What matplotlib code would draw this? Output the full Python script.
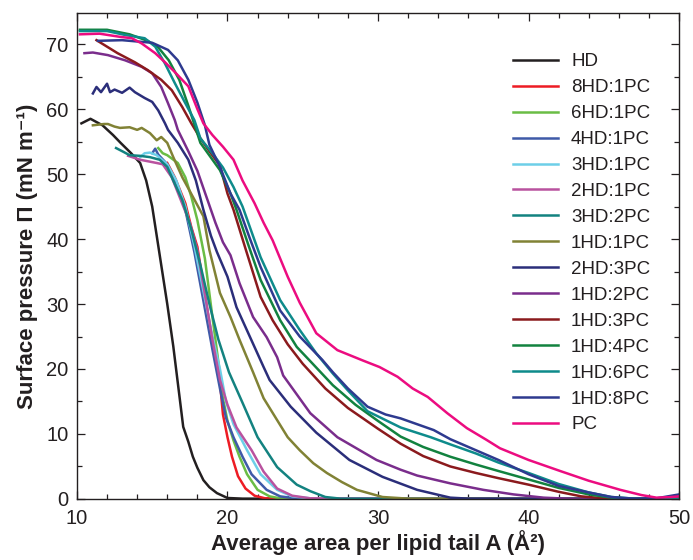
import matplotlib
matplotlib.use("Agg")
import matplotlib.pyplot as plt
from matplotlib.ticker import MultipleLocator

plt.rcParams['font.family'] = ['Liberation Sans', 'DejaVu Sans']

# isotherms: area per tail (A^2) and surface pressure (mN/m)
hd_x = [10.3, 10.9, 11.7, 12.4, 12.9, 13.6, 14.2, 14.6, 15.0, 15.5, 16.0, 16.4, 16.8, 17.06, 17.4, 17.7, 18.0, 18.4, 18.8, 19.3, 20.0, 21.0, 50]
hd_y = [57.8, 58.5, 57.5, 56.0, 54.8, 53.2, 51.7, 49.0, 45.0, 37.5, 30.0, 23.5, 16.0, 11.1, 8.8, 6.5, 4.8, 2.9, 1.8, 0.9, 0.15, 0.05, 0]

hd8_x = [16.0, 16.5, 17.2, 17.6, 18.0, 18.4, 18.8, 19.2, 19.5, 19.7, 20.0, 20.3, 20.7, 21.2, 21.8, 22.5, 50]
hd8_y = [51.7, 49.5, 45.5, 41.8, 38.8, 33.0, 27.0, 22.0, 18.0, 13.0, 9.5, 6.5, 3.5, 1.6, 0.5, 0.1, 0]

hd6_x = [15.4, 15.7, 16.0, 16.7, 17.2, 17.6, 18.0, 18.5, 19.0, 19.4, 19.7, 20.0, 20.4, 20.8, 21.3, 22.0, 22.8, 23.5, 50]
hd6_y = [54.0, 53.2, 52.9, 51.7, 49.5, 46.5, 42.9, 37.0, 28.0, 21.0, 15.5, 12.0, 9.0, 6.5, 3.8, 1.4, 0.4, 0.1, 0]

hd4_x = [15.0, 15.2, 15.4, 16.0, 16.6, 17.2, 17.8, 18.4, 19.0, 19.5, 19.9, 20.4, 21.0, 21.6, 22.6, 23.5, 24.5, 50]
hd4_y = [53.2, 53.9, 53.0, 51.5, 48.8, 44.5, 38.0, 30.5, 23.0, 17.0, 12.5, 9.5, 6.5, 3.8, 1.4, 0.4, 0.1, 0]

hd3_x = [14.2, 14.5, 14.85, 15.3, 16.0, 16.6, 17.2, 17.8, 18.4, 19.0, 19.5, 19.9, 20.4, 21.3, 22.2, 23.3, 24.3, 25.5, 50]
hd3_y = [52.6, 53.2, 53.3, 52.9, 51.5, 49.0, 45.0, 39.0, 32.0, 25.0, 20.0, 15.0, 11.5, 7.5, 3.8, 1.4, 0.4, 0.1, 0]

hd2_x = [13.4, 14.2, 15.3, 15.7, 16.3, 16.9, 17.5, 18.0, 18.5, 19.0, 19.5, 20.0, 20.6, 21.6, 22.4, 23.3, 24.3, 25.5, 50]
hd2_y = [52.8, 52.2, 51.7, 51.5, 49.5, 46.0, 42.5, 38.3, 31.5, 24.5, 18.3, 14.5, 11.0, 7.5, 4.2, 1.6, 0.5, 0.1, 0]

hd3pc2_x = [12.6, 13.1, 13.5, 14.2, 14.85, 15.5, 16.0, 16.4, 17.0, 17.6, 18.2, 18.8, 19.4, 20.1, 21.0, 22.0, 23.3, 24.6, 25.5, 26.5, 27.5, 50]
hd3pc2_y = [54.0, 53.4, 52.9, 52.8, 52.6, 52.2, 51.1, 49.0, 46.0, 41.5, 36.0, 30.0, 24.5, 19.5, 14.8, 9.5, 4.9, 2.2, 1.2, 0.3, 0.05, 0]

pc1_x = [11.06, 11.8, 12.06, 12.5, 12.86, 13.5, 14.0, 14.3, 14.85, 15.3, 15.6, 16.0, 16.4, 17.0, 17.7, 18.4, 18.8, 19.5, 20.2, 20.8, 21.7, 22.4, 23.2, 24.0, 24.8, 25.7, 26.6, 27.6, 28.6, 30.3, 32.0, 50]
pc1_y = [57.5, 57.7, 57.7, 57.3, 57.1, 57.2, 56.8, 57.1, 56.3, 55.2, 55.7, 54.8, 52.6, 49.5, 46.5, 43.5, 38.3, 31.7, 28.0, 24.5, 19.5, 15.5, 12.5, 9.5, 7.5, 5.5, 4.0, 2.6, 1.4, 0.3, 0.05, 0]

hd2pc3_x = [11.06, 11.3, 11.6, 12.0, 12.2, 12.5, 13.0, 13.5, 13.85, 14.5, 15.0, 15.4, 15.85, 16.05, 16.7, 17.4, 17.9, 18.4, 18.9, 19.3, 20.0, 20.6, 21.5, 22.4, 22.8, 24.2, 25.9, 28.1, 30.3, 32.6, 34.8, 36.0, 50]
hd2pc3_y = [62.4, 63.4, 62.6, 63.9, 62.6, 63.0, 62.5, 63.3, 62.6, 61.7, 61.1, 59.8, 57.8, 56.8, 54.8, 52.2, 49.0, 44.5, 40.5, 38.0, 34.2, 29.5, 24.9, 20.3, 18.3, 14.2, 10.2, 6.0, 3.4, 1.4, 0.2, 0.05, 0]

pc2_x = [10.5, 11.06, 12.06, 13.2, 14.3, 15.0, 15.6, 16.05, 16.5, 16.7, 17.4, 18.0, 18.6, 19.2, 19.7, 20.2, 20.8, 21.7, 22.6, 23.3, 23.7, 25.5, 27.3, 29.9, 31.5, 32.6, 34.8, 37.0, 39.0, 41.0, 43.0, 50]
pc2_y = [68.6, 68.7, 68.3, 67.5, 66.5, 65.5, 63.4, 60.9, 58.3, 56.8, 53.5, 50.5, 46.5, 42.5, 39.5, 37.5, 33.2, 28.0, 24.9, 21.8, 19.0, 13.2, 9.5, 6.0, 4.5, 3.6, 2.4, 1.4, 0.7, 0.2, 0, 0]

pc3_x = [11.3, 12.7, 13.85, 14.7, 15.6, 16.3, 17.0, 17.6, 18.2, 18.8, 19.5, 20.0, 20.4, 21.2, 22.2, 23.0, 24.0, 25.0, 26.5, 28.0, 30.0, 31.5, 33.0, 34.8, 36.5, 38.0, 40.0, 42.0, 43.5, 45.0, 47.0, 50]
pc3_y = [70.6, 68.6, 67.2, 66.0, 64.5, 62.9, 60.3, 57.8, 55.5, 53.5, 51.3, 47.0, 44.5, 38.5, 31.1, 27.5, 23.8, 20.8, 17.0, 14.0, 10.8, 8.5, 6.6, 5.0, 4.0, 3.2, 2.2, 1.1, 0.4, 0.1, 0, 0]

pc4_x = [10.2, 12.0, 13.5, 14.7, 15.4, 16.1, 16.8, 17.4, 18.2, 19.5, 20.2, 20.6, 21.4, 22.2, 23.5, 24.6, 25.5, 27.0, 28.5, 30.0, 31.5, 33.0, 34.8, 36.5, 38.0, 40.0, 42.0, 44.0, 45.5, 47.0, 50]
pc4_y = [72.2, 72.2, 71.5, 70.5, 69.5, 67.5, 64.5, 60.5, 54.8, 50.6, 47.0, 44.5, 39.0, 33.7, 27.5, 23.4, 21.2, 17.5, 14.5, 12.0, 9.6, 8.0, 6.5, 5.3, 4.3, 3.0, 1.7, 0.7, 0.2, 0, 0]

pc6_x = [10.2, 12.0, 13.2, 14.5, 15.2, 15.85, 16.5, 17.2, 17.8, 18.2, 19.0, 19.7, 20.4, 21.0, 22.2, 23.5, 24.8, 25.9, 27.0, 28.0, 29.3, 31.5, 33.5, 34.8, 36.5, 38.0, 40.0, 42.0, 44.0, 45.5, 47.0, 50]
pc6_y = [72.0, 72.0, 71.4, 70.9, 69.6, 67.0, 64.0, 60.9, 58.3, 55.5, 53.2, 51.0, 48.0, 45.0, 37.2, 30.6, 26.0, 22.4, 19.3, 16.7, 13.5, 11.0, 9.5, 8.4, 7.0, 5.6, 4.0, 2.3, 1.0, 0.3, 0.05, 0]

pc8_x = [11.4, 13.0, 15.0, 16.05, 16.7, 17.4, 18.0, 18.5, 18.8, 19.5, 20.2, 20.8, 21.5, 22.2, 23.5, 24.8, 26.3, 27.0, 28.0, 29.3, 30.5, 31.5, 33.7, 34.8, 36.3, 38.0, 40.0, 42.0, 44.0, 45.5, 47.0, 48.5, 49.5, 50]
pc8_y = [70.5, 70.6, 70.2, 69.1, 67.5, 64.5, 61.0, 57.5, 54.5, 51.1, 47.0, 44.5, 40.0, 35.7, 29.0, 25.0, 21.4, 19.5, 17.0, 14.2, 13.0, 12.4, 10.6, 9.2, 7.7, 6.0, 3.8, 2.0, 1.0, 0.3, 0.05, 0.1, 0.5, 0.7]

pc_x = [10.2, 11.5, 12.9, 13.65, 14.3, 15.2, 15.85, 16.5, 17.4, 18.0, 18.4, 19.0, 19.7, 20.4, 21.0, 21.8, 22.4, 23.0, 24.0, 24.8, 25.9, 27.3, 29.0, 30.1, 31.3, 32.3, 33.3, 34.6, 35.9, 37.2, 38.1, 40.0, 42.1, 44.0, 46.1, 47.5, 48.5, 49.5, 50]
pc_y = [71.5, 71.6, 71.1, 70.9, 70.1, 68.6, 67.2, 65.7, 63.5, 60.0, 57.8, 56.0, 54.2, 52.2, 49.0, 45.5, 42.5, 39.8, 34.2, 30.2, 25.5, 22.9, 21.3, 20.3, 18.8, 17.0, 15.7, 13.2, 10.9, 9.1, 7.8, 6.0, 4.3, 2.8, 1.4, 0.6, 0.2, 0.3, 0.4]

labels = ['HD', '8HD:1PC', '6HD:1PC', '4HD:1PC', '3HD:1PC', '2HD:1PC', '3HD:2PC',
          '1HD:1PC', '2HD:3PC', '1HD:2PC', '1HD:3PC', '1HD:4PC', '1HD:6PC', '1HD:8PC', 'PC']
colors = ['#231F20', '#ED1C24', '#6ABD45', '#3F5AA8', '#6DCFE8', '#B9529F', '#138280',
          '#818235', '#2B2E7A', '#7A2D8C', '#8B1A1D', '#12823F', '#0E8B8B', '#2E3A8F', '#EC0C80']
xs = [hd_x, hd8_x, hd6_x, hd4_x, hd3_x, hd2_x, hd3pc2_x, pc1_x, hd2pc3_x, pc2_x, pc3_x, pc4_x, pc6_x, pc8_x, pc_x]
ys = [hd_y, hd8_y, hd6_y, hd4_y, hd3_y, hd2_y, hd3pc2_y, pc1_y, hd2pc3_y, pc2_y, pc3_y, pc4_y, pc6_y, pc8_y, pc_y]

fig = plt.figure(figsize=(6.93, 5.6), dpi=100)
ax = fig.add_axes([0.111, 0.109, 0.869, 0.868])

for x, y, c, lab in zip(xs, ys, colors, labels):
    ax.plot(x, y, color=c, lw=1.8, label=lab, solid_joinstyle='round')

ax.set_xlim(10, 50)
ax.set_ylim(0, 74.8)
ax.xaxis.set_major_locator(MultipleLocator(10))
ax.xaxis.set_minor_locator(MultipleLocator(2))
ax.yaxis.set_major_locator(MultipleLocator(10))
ax.yaxis.set_minor_locator(MultipleLocator(5))
ax.tick_params(which='both', direction='in', top=True, right=True,
               labelsize=14.5, colors='#231F20', width=0.9)
ax.tick_params(which='major', length=6)
ax.tick_params(which='minor', length=3.5)
ax.tick_params(axis='x', which='major', pad=7)
ax.tick_params(axis='y', which='major', pad=6)
for s in ax.spines.values():
    s.set_linewidth(1.0)
    s.set_color('#231F20')

ax.set_xlabel('Average area per lipid tail A (Å²)', fontsize=16, fontweight='bold',
              color='#231F20', labelpad=2)
ax.set_ylabel('Surface pressure Π (mN m⁻¹)', fontsize=16, fontweight='bold',
              color='#231F20', labelpad=6)

ax.legend(loc='upper left', bbox_to_anchor=(0.724, 0.917), frameon=False, fontsize=13.5,
          handlelength=2.4, handletextpad=0.7, labelspacing=0.47, borderpad=0, borderaxespad=0,
          labelcolor='#231F20')

fig.savefig('out.png', dpi=100)
